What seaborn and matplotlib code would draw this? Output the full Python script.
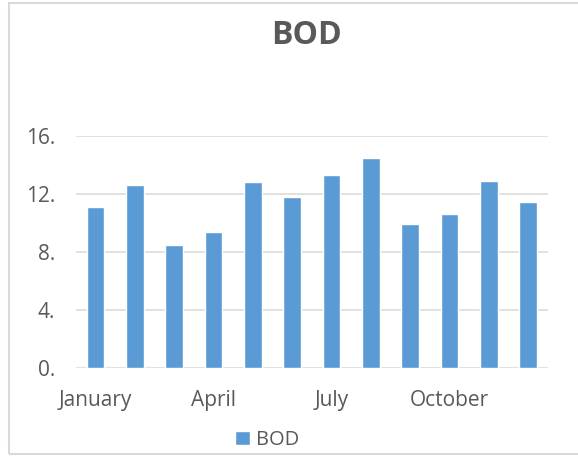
import pandas as pd
import seaborn as sns
import matplotlib.pyplot as plt
from matplotlib.patches import Rectangle

# monthly BOD readings
months = ["January", "February", "March", "April", "May", "June",
          "July", "August", "September", "October", "November", "December"]
bod = [11.1, 12.6, 8.5, 9.4, 12.8, 11.8, 13.3, 14.5, 9.9, 10.6, 12.9, 11.45]
yticks = [0, 4, 8, 12, 16]

df = pd.DataFrame({"Month": months, "BOD": bod})

sns.set_style("white")
plt.rcParams['font.family'] = ['Open Sans', 'DejaVu Sans']
grey = "#595959"

fig = plt.figure(figsize=(5.78, 4.57), dpi=100)
ax = fig.add_axes([0.131, 0.1947, 0.817, 0.5077])

sns.barplot(x="Month", y="BOD", data=df, ax=ax, color="#5B9BD5",
            width=0.45, saturation=1, label="BOD", zorder=3)

ax.set_ylim(0, 16)
ax.set_xlim(-0.5, len(months) - 0.5)
ax.set_yticks(yticks)
ax.set_yticklabels([f"{v}." for v in yticks])
ax.set_xticks(range(0, len(months), 3))
ax.set_xticklabels([months[i] for i in range(0, len(months), 3)])
ax.tick_params(axis="both", length=0, labelsize=15, labelcolor=grey)
ax.tick_params(axis="y", pad=15)
ax.tick_params(axis="x", pad=16)
ax.set_xlabel("")
ax.set_ylabel("")
ax.yaxis.grid(True, color="#d9d9d9", linewidth=1.1, zorder=0)
ax.set_axisbelow(True)
sns.despine(ax=ax, left=True, bottom=True)

fig.text(0.531, 0.923, "BOD", ha="center", va="center",
         fontsize=23, fontweight="bold", color=grey)

leg = ax.legend(loc="center", bbox_to_anchor=(0.462, 0.037),
                bbox_transform=fig.transFigure, frameon=False,
                fontsize=14.5, handlelength=0.75, handleheight=0.75,
                handletextpad=0.3)
for t in leg.get_texts():
    t.set_color(grey)

# chart frame
fig.patches.append(Rectangle((9 / 578, 3 / 457), 1.0, 451 / 457,
                             transform=fig.transFigure, fill=False,
                             edgecolor="#d9d9d9", linewidth=1.5))

fig.savefig("out.png", dpi=100)
